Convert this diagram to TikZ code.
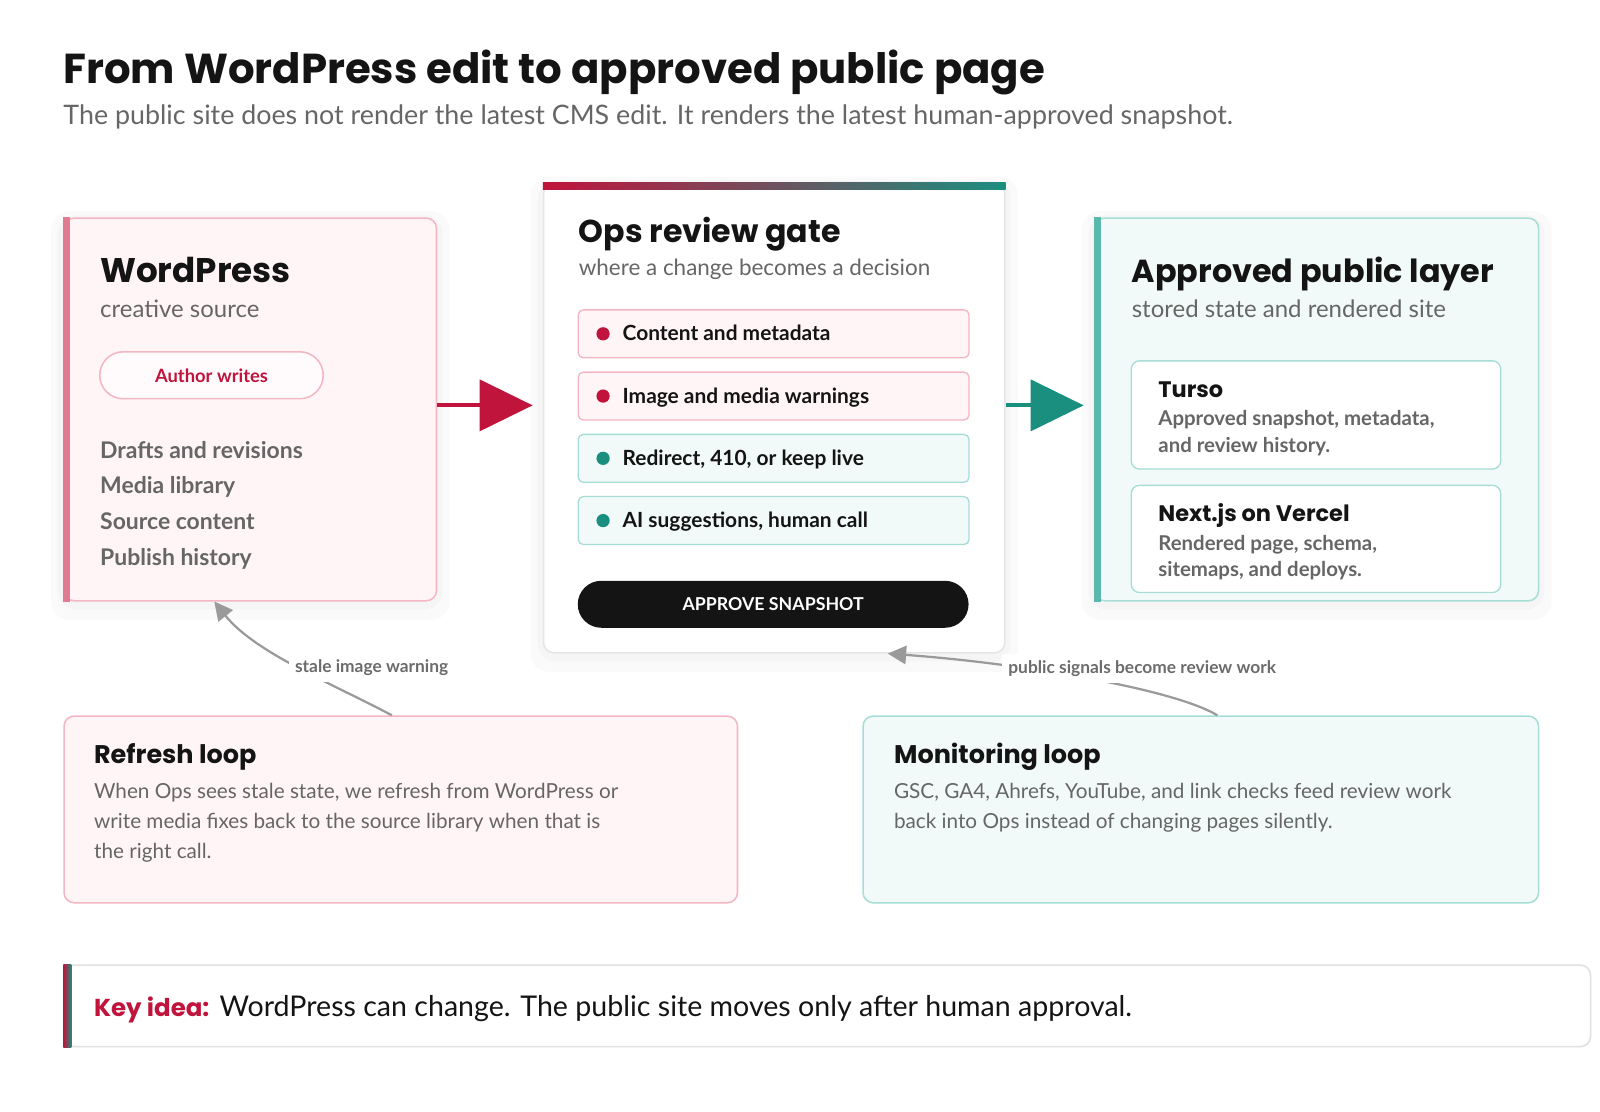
\documentclass[tikz,border=0pt]{standalone}
\usepackage{fontspec}
\setmainfont{Lato}
\newfontfamily\headfont{Poppins}
\usetikzlibrary{arrows.meta}
\usetikzlibrary{backgrounds}

\definecolor{crimson}{HTML}{C0143C}
\definecolor{teal}{HTML}{1A8F80}
\definecolor{pinkline}{HTML}{F4B6C2}
\definecolor{pinkfill}{HTML}{FFF5F7}
\definecolor{pinkbar}{HTML}{E07B91}
\definecolor{tealline}{HTML}{A6DDD6}
\definecolor{tealfill}{HTML}{F1FAF8}
\definecolor{tealbar}{HTML}{5BB8AD}
\definecolor{ink}{HTML}{141414}
\definecolor{muted}{HTML}{666666}
\definecolor{arrowgray}{HTML}{9A9A9A}

\newcommand{\fs}[2]{\fontsize{#1}{#2}\selectfont}

\begin{document}
\begin{tikzpicture}[x=1pt,y=-1pt,
  card/.style={draw, rounded corners=10pt, line width=1.5pt, anchor=north west, inner sep=0pt},
  pinkcard/.style={card, draw=pinkline, fill=pinkfill},
  tealcard/.style={card, draw=tealline, fill=tealfill},
  halo/.style={fill=black, opacity=.018, rounded corners=18pt},
  txt/.style={anchor=base west, inner sep=0pt},
  heading/.style={txt, text=ink, font=\headfont\bfseries\fs{#1}{38}},
  subline/.style={txt, text=muted, font=\fs{23.5}{28}},
  listline/.style={txt, text=muted, font=\bfseries\fs{22.5}{26}},
  checkbox/.style={draw, rounded corners=5pt, line width=1.3pt, anchor=north west, inner sep=0pt,
    minimum width=383pt, minimum height=47pt},
  dot/.style={circle, inner sep=0pt, minimum size=13pt},
  itemtext/.style={txt, text=ink, font=\bfseries\fs{20.5}{24}},
  subbox/.style={draw=tealline, fill=white, rounded corners=8pt, line width=1.3pt, anchor=north west,
    inner sep=0pt, minimum width=362pt, minimum height=106pt},
  boxhead/.style={txt, text=ink, font=\headfont\bfseries\fs{22}{26}},
  boxtext/.style={txt, text=muted, font=\bfseries\fs{20}{26}, align=left},
  looptext/.style={txt, text=muted, font=\fs{20.3}{29}, align=left},
  loopnote/.style={txt, text=arrowgray!70!black, font=\bfseries\fs{17}{20}, fill=white, inner sep=6pt},
  signal/.style={draw=arrowgray, line width=2.2pt, -{Triangle[length=18pt,width=18pt]}}
]

\node[txt, text=ink, font=\headfont\bfseries\fs{41}{48}] (title) at (62,82) {From WordPress edit to approved public page};
\node[txt, text=muted, font=\fs{26.3}{30}] (subtitle) at (62,122) {The public site does not render the latest CMS edit. It renders the latest human-approved snapshot.};

% WordPress
\node[pinkcard, minimum width=365pt, minimum height=375pt] (wp) at (62,213) {};
\fill[pinkbar] (wp.north west) rectangle ([xshift=7pt]wp.south west);
\node[heading=33.5] (wptitle) at (98,277) {WordPress};
\node[subline] (wpsub) at (98,311) {creative source};
\node[draw=pinkline, fill=white!60!pinkfill, line width=1.5pt, rounded corners=23pt, anchor=north west,
  minimum width=219pt, minimum height=46pt, text=crimson, font=\bfseries\fs{18}{20}] (author) at (97,344) {Author writes};
\node[listline] (drafts) at (98,449) {Drafts and revisions};
\node[listline] (media) at (98,484) {Media library};
\node[listline] (source) at (98,519) {Source content};
\node[listline] (history) at (98,554) {Publish history};

% Ops review gate
\node[card, draw=black!10, fill=white, minimum width=452pt, minimum height=460pt] (ops) at (532,179) {};
\shade[left color=crimson, middle color=black!65, right color=teal] (ops.north west) rectangle ([yshift=-7pt]ops.north east);
\node[heading=31] (opstitle) at (567,238) {Ops review gate};
\node[subline, font=\fs{22}{26}] (opssub) at (567,270) {where a change becomes a decision};

\node[checkbox, draw=pinkline, fill=pinkfill] (content) at (566,303) {};
\node[dot, fill=crimson] at ([xshift=25pt]content.west) {};
\node[itemtext] at ([xshift=44pt,yshift=-7pt]content.west) {Content and metadata};
\node[checkbox, draw=pinkline, fill=pinkfill] (image) at (566,364) {};
\node[dot, fill=crimson] at ([xshift=25pt]image.west) {};
\node[itemtext] at ([xshift=44pt,yshift=-7pt]image.west) {Image and media warnings};
\node[checkbox, draw=tealline, fill=tealfill] (redirect) at (566,425) {};
\node[dot, fill=teal] at ([xshift=25pt]redirect.west) {};
\node[itemtext] at ([xshift=44pt,yshift=-7pt]redirect.west) {Redirect, 410, or keep live};
\node[checkbox, draw=tealline, fill=tealfill] (ai) at (566,486) {};
\node[dot, fill=teal] at ([xshift=25pt]ai.west) {};
\node[itemtext] at ([xshift=44pt,yshift=-7pt]ai.west) {AI suggestions, human call};

\node[fill=ink, rounded corners=23pt, anchor=north west, minimum width=383pt, minimum height=46pt,
  text=white, font=\bfseries\fs{17.4}{20}] (approve) at (566,569) {APPROVE SNAPSHOT};

% Approved public layer
\node[tealcard, minimum width=435pt, minimum height=375pt] (pub) at (1072,213) {};
\fill[tealbar] (pub.north west) rectangle ([xshift=7pt]pub.south west);
\node[heading=31.2] (pubtitle) at (1109,277) {Approved public layer};
\node[subline] (pubsub) at (1109,311) {stored state and rendered site};

\node[subbox] (turso) at (1108,353) {};
\node[boxhead] at (1135,390) {Turso};
\node[boxtext] at (1135,443) {Approved snapshot, metadata,\\and review history.};
\node[subbox, minimum height=105pt] (vercel) at (1108,475) {};
\node[boxhead] at (1135,511) {Next.js on Vercel};
\node[boxtext] at (1135,565) {Rendered page, schema,\\sitemaps, and deploys.};

\begin{scope}[on background layer]
\fill[halo] ([shift={(-12,-6)}]wp.north west) rectangle ([shift={(12,18)}]wp.south east);
\fill[halo] ([shift={(-12,-6)}]ops.north west) rectangle ([shift={(12,18)}]ops.south east);
\fill[halo] ([shift={(-12,-6)}]pub.north west) rectangle ([shift={(12,18)}]pub.south east);
\fill[halo] ([shift={(-5,-2)}]wp.north west) rectangle ([shift={(5,8)}]wp.south east);
\fill[halo] ([shift={(-5,-2)}]ops.north west) rectangle ([shift={(5,8)}]ops.south east);
\fill[halo] ([shift={(-5,-2)}]pub.north west) rectangle ([shift={(5,8)}]pub.south east);
\end{scope}

% flow arrows
\draw[crimson, line width=4pt, -{Triangle[length=52pt,width=50pt]}, shorten >=10pt] ([yshift=4pt]wp.east) -- ([yshift=4pt]wp.east -| ops.west);
\draw[teal, line width=4pt, -{Triangle[length=52pt,width=50pt]}, shorten >=10pt] ([yshift=4pt]ops.east |- wp.east) -- ([yshift=4pt]pub.west);

% loops
\node[pinkcard, minimum width=660pt, minimum height=183pt] (refresh) at (62,701) {};
\node[heading=25] at (92,748) {Refresh loop};
\node[looptext] at (92,841) {When Ops sees stale state, we refresh from WordPress or\\write media fixes back to the source library when that is\\the right call.};

\node[tealcard, minimum width=662pt, minimum height=183pt] (monitor) at (845,701) {};
\node[heading=25] at (876,748) {Monitoring loop};
\node[looptext] at (876,812) {GSC, GA4, Ahrefs, YouTube, and link checks feed review work\\back into Ops instead of changing pages silently.};

\draw[signal] ([xshift=322pt]refresh.north west) .. controls (330,672) and (250,640) .. ([xshift=148pt]wp.south west);
\node[loopnote] (stale) at (283,659) {stale image warning};
\draw[signal] ([xshift=348pt]monitor.north west) .. controls (1150,675) and (1000,650) .. ([xshift=338pt]ops.south west);
\node[loopnote] (signals) at (982,660) {public signals become review work};

% key idea
\node[card, draw=black!12, fill=white, minimum width=1496pt, minimum height=80pt] (key) at (62,945) {};
\shade[left color=crimson, right color=teal] (key.north west) rectangle ([xshift=8pt]key.south west);
\node[txt] at (92,996) {\textcolor{crimson}{\headfont\bfseries\fs{24}{30}Key idea:}\hspace{10pt}\textcolor{ink}{\fs{28}{30}WordPress can change. The public site moves only after human approval.}};

\pgfresetboundingbox
\useasboundingbox (0,0) rectangle (1568,1089);
\end{tikzpicture}
\end{document}
